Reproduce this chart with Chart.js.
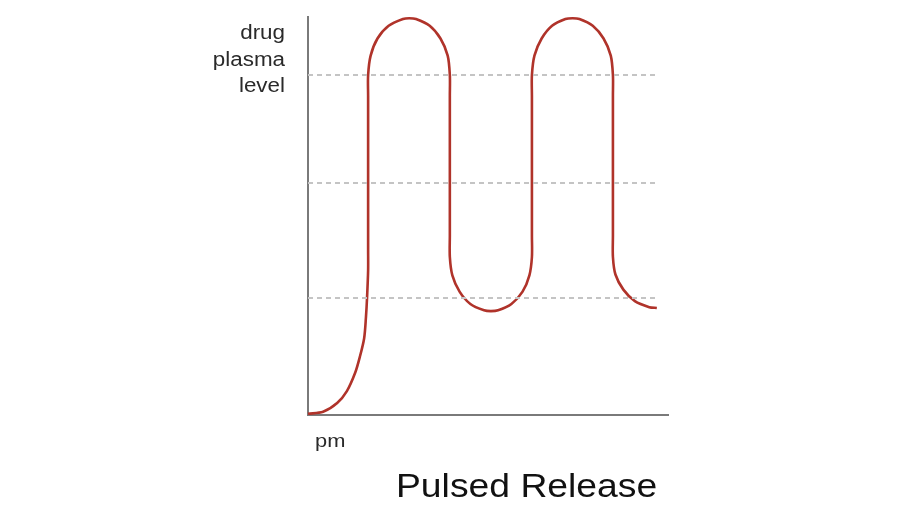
<!DOCTYPE html>
<html>
<head>
<meta charset="utf-8">
<script src="https://cdn.jsdelivr.net/npm/chart.js@4.4.0/dist/chart.umd.min.js"></script>
<style>
  html, body { margin: 0; padding: 0; background: #fff; }
  #wrap { width: 900px; height: 505px; }
</style>
</head>
<body>
<div id="wrap"><canvas id="chart" width="900" height="505"></canvas></div>
<script>
// curve (time, level), both on a 0..100 scale
const curveX = [0, 4.2, 8.1, 10.8, 13.1, 14.4, 15.6, 16.1, 16.4, 16.7, 16.7, 16.7, 16.7, 16.7, 16.7, 16.7,
  17.4, 19.3, 22.4, 26.4, 28.1, 30.0, 33.8, 36.8, 38.8,
  39.4, 39.4, 39.4, 39.4, 39.4, 39.4, 39.4,
  40.1, 42.1, 45.1, 48.9, 50.8, 52.8, 56.5, 59.6, 61.5,
  62.2, 62.2, 62.2, 62.2, 62.2, 62.2, 62.2,
  62.9, 64.9, 67.8, 71.5, 73.5, 75.4, 79.1, 82.1, 84.1,
  84.7, 84.7, 84.7, 84.7, 84.7, 84.7, 84.7,
  85.4, 87.6, 90.8, 94.8, 96.9];
const curveY = [0.3, 0.8, 3.0, 6.0, 10.6, 14.6, 19.3, 24.6, 29.4, 36.4, 41.5, 47.0, 59.0, 72.0, 80.2, 85.4,
  90.3, 94.6, 97.8, 99.5, 99.7, 99.5, 97.8, 94.6, 90.3,
  85.4, 80.2, 72.0, 59.0, 50.0, 45.0, 39.7,
  35.1, 31.0, 27.9, 26.3, 26.1, 26.3, 27.9, 31.0, 35.1,
  39.7, 45.0, 50.0, 59.0, 72.0, 80.2, 85.4,
  90.3, 94.6, 97.8, 99.5, 99.7, 99.5, 97.8, 94.6, 90.3,
  85.4, 80.2, 72.0, 59.0, 50.0, 45.0, 39.7,
  35.3, 31.5, 28.6, 27.1, 26.9];

// dashed reference levels
const levelValues = [29.4, 58.3, 85.4];
const levelStartX = 0;
const levelEndX = 96.9;

const yLabelLines = ['drug', 'plasma', 'level'];
const xLabel = 'pm';
const captionText = 'Pulsed Release';

const curvePoints = curveX.map((x, i) => ({x: x, y: curveY[i]}));

const levelSets = levelValues.map(v => ({
  label: 'level ' + v,
  data: [{x: levelStartX, y: v}, {x: levelEndX, y: v}],
  borderColor: '#c4c4c4',
  borderWidth: 2,
  borderDash: [5, 4],
  pointRadius: 0,
  showLine: true,
  tension: 0
}));

// the source image is slightly stretched sideways, so the text is too
function wideText(ctx, text, x, y, font, align, stretch) {
  ctx.save();
  ctx.font = font;
  ctx.textAlign = align;
  ctx.translate(x, y);
  ctx.scale(stretch, 1);
  ctx.fillText(text, 0, 0);
  ctx.restore();
}

const textPlugin = {
  id: 'texts',
  afterDraw(chart) {
    const ctx = chart.ctx;
    ctx.save();
    ctx.textBaseline = 'alphabetic';
    ctx.fillStyle = '#2a2a2a';
    yLabelLines.forEach((t, i) => {
      wideText(ctx, t, 285, 39 + i * 26.5, '20px "Liberation Sans", Arial, sans-serif', 'right', 1.12);
    });
    wideText(ctx, xLabel, 315, 447, '19px "Liberation Sans", Arial, sans-serif', 'left', 1.15);
    ctx.fillStyle = '#111';
    wideText(ctx, captionText, 396, 497, '33px "Liberation Sans", Arial, sans-serif', 'left', 1.13);
    ctx.restore();
  }
};

new Chart(document.getElementById('chart'), {
  type: 'scatter',
  data: {
    datasets: [
      ...levelSets,
      {
        label: 'plasma level',
        data: curvePoints,
        borderColor: '#b0332a',
        borderWidth: 2.6,
        pointRadius: 0,
        showLine: true,
        tension: 0.3,
        clip: 8
      }
    ]
  },
  options: {
    responsive: false,
    animation: false,
    layout: { padding: { left: 308, right: 232, top: 17, bottom: 90 } },
    plugins: {
      legend: { display: false },
      tooltip: { enabled: false },
      title: { display: false }
    },
    scales: {
      x: {
        type: 'linear', min: 0, max: 100,
        ticks: { display: false },
        grid: { display: false, drawTicks: false },
        border: { display: true, color: '#7a7a7a', width: 2 }
      },
      y: {
        type: 'linear', min: 0, max: 100,
        ticks: { display: false },
        grid: { display: false, drawTicks: false },
        border: { display: true, color: '#7a7a7a', width: 2 }
      }
    }
  },
  plugins: [textPlugin]
});
</script>
</body>
</html>
